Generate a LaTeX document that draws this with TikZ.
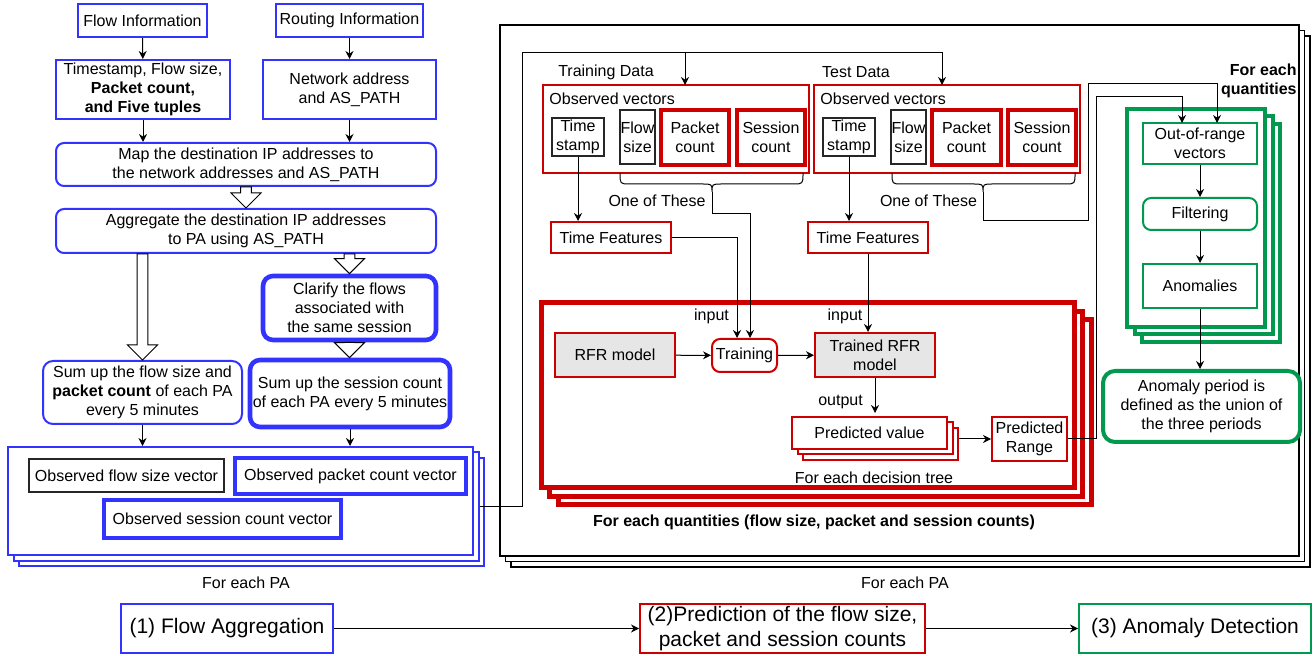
\documentclass[tikz,border=0pt]{standalone}
\usepackage{fontspec}
\setmainfont{Liberation Sans}
\usetikzlibrary{calc, arrows.meta}
\definecolor{fablue}{RGB}{51,51,255}
\definecolor{fared}{RGB}{204,0,0}
\definecolor{fagreen}{RGB}{0,153,77}
\definecolor{fagray}{RGB}{230,230,230}

\newcommand{\hollowarrow}[2]{%
  \draw[line width=0.5pt, fill=white] let \p1=(#1), \p2=(#2) in
    (\x1-2.7pt,\y1) -- (\x1-2.7pt,\y2+7.5pt) -- (\x1-7.5pt,\y2+7.5pt) -- (\x1,\y2)
    -- (\x1+7.5pt,\y2+7.5pt) -- (\x1+2.7pt,\y2+7.5pt) -- (\x1+2.7pt,\y1) -- cycle;}

\begin{document}
\begin{tikzpicture}[x=0.5pt, y=-0.5pt, >={Stealth[length=4pt,width=4pt]},
    every node/.style={font=\fontsize{8}{9.6}\selectfont, inner sep=1pt, align=center},
    sz/.style 2 args={minimum width=#1*0.5pt, minimum height=#2*0.5pt},
    bbox/.style={draw=fablue, line width=1pt, fill=white},
    bthick/.style={draw=fablue, line width=2.3pt, fill=white},
    rbox/.style={draw=fared, line width=1pt, fill=white},
    rthick/.style={draw=fared, line width=2pt, fill=white, inner sep=0pt},
    gbox/.style={draw=fagreen, line width=1pt, fill=white},
    kbox/.style={draw=black!85, line width=0.6pt, fill=white, inner sep=0pt},
    model/.style={rbox, fill=fagray},
    conn/.style={->, line width=0.5pt},
    bigfont/.style={font=\fontsize{10.5}{12.6}\selectfont}]
  \useasboundingbox (0,0) rectangle (1315,656);

  % flow aggregation
  \node[bbox, sz={129}{33}] (fi) at (142.5,20.5) {Flow Information};
  \node[bbox, sz={147}{33}] (ri) at (349.5,20.5) {Routing Information};
  \node[bbox, sz={174}{59}] (ts) at (143,89.5) {Timestamp, Flow size,\\ \textbf{Packet count,}\\ \textbf{and Five tuples}};
  \node[bbox, sz={173}{59}] (na) at (349.5,89.5) {Network address\\ and AS\_PATH};
  \node[bbox, rounded corners=4pt, sz={380}{43}] (map) at (246,164.5) {Map the destination IP addresses to\\ the network addresses and AS\_PATH};
  \node[bbox, rounded corners=4pt, sz={380}{44}] (agg) at (246,231) {Aggregate the destination IP addresses\\ to PA using AS\_PATH};
  \node[bthick, rounded corners=5pt, sz={173}{64}] (clar) at (349.5,308) {Clarify the flows\\ associated with\\ the same session};
  \node[bbox, rounded corners=5pt, sz={199}{63}] (sumf) at (142.5,392.5) {Sum up the flow size and\\ \textbf{packet count} of each PA\\ every 5 minutes};
  \node[bthick, rounded corners=5pt, sz={200}{67}, inner sep=0pt] (sums) at (350,393.5) {Sum up the session count\\ of each PA every 5 minutes};

  \node[bbox, sz={465}{108}] (pa3) at (251.5,512) {};
  \node[bbox, sz={465}{108}] (pa2) at (246,506.5) {};
  \node[bbox, sz={465}{108}] (pa1) at (240.5,501) {};
  \node[kbox, sz={195}{33}] (ofs) at (126.5,475.5) {Observed flow size vector};
  \node[bthick, sz={231}{36}, inner sep=0pt] (opc) at (350.5,476) {Observed packet count vector};
  \node[bthick, sz={237}{38}, inner sep=0pt] (osc) at (222.5,519) {Observed session count vector};
  \node (pal) at (246,583) {For each PA};

  \draw[conn] (fi) -- (ts);
  \draw[conn] (ri) -- (na);
  \draw[conn] (ts.south) -- (ts.south |- map.north);
  \draw[conn] (na.south) -- (na.south |- map.north);
  \hollowarrow{map.south}{agg.north}
  \hollowarrow{agg.south -| clar.north}{clar.north}
  \hollowarrow{agg.south -| sumf.north}{sumf.north}
  \hollowarrow{clar.south}{clar.south |- sums.north}
  \draw[conn] (sumf.south) -- (sumf.south |- pa1.north);
  \draw[conn] (sums.south) -- (sums.south |- pa1.north);

  % prediction
  \node[draw, line width=0.9pt, fill=white, sz={799}{531}] (bk3) at (910.5,301.5) {};
  \node[draw, line width=0.9pt, fill=white, sz={799}{531}] (bk2) at (905,296) {};
  \node[draw, line width=0.9pt, fill=white, sz={799}{531}] (bk1) at (899.5,290.5) {};
  \node (bkl) at (905,583) {For each PA};

  \node (trd) at (606,72) {Training Data};
  \node (ted) at (856,72) {Test Data};
  \node[rbox, sz={266}{88}] (tro) at (676,129) {};
  \node[rbox, sz={266}{88}] (teo) at (947,129) {};
  \node[anchor=west] (trol) at (547,99) {Observed vectors};
  \node[anchor=west] (teol) at (818,99) {Observed vectors};

  \node[kbox, sz={52}{38}] (tts) at (578,137) {Time\\ stamp};
  \node[kbox, sz={35}{54}] (tfs) at (637.5,137) {Flow\\ size};
  \node[rthick, sz={68}{55}] (tpc) at (695,137.5) {Packet\\ count};
  \node[rthick, sz={68}{55}] (tsc) at (771,137.5) {Session\\ count};
  \node[kbox, sz={52}{38}] (ets) at (849,137) {Time\\ stamp};
  \node[kbox, sz={35}{54}] (efs) at (908.5,137) {Flow\\ size};
  \node[rthick, sz={69}{55}] (epc) at (966.5,137.5) {Packet\\ count};
  \node[rthick, sz={68}{55}] (esc) at (1042,137.5) {Session\\ count};

  \draw[line width=0.5pt] (620,173) .. controls (620,184) .. (630,184) -- (702,184) .. controls (712,184) .. (712,192)
    .. controls (712,184) .. (722,184) -- (793,184) .. controls (803,184) .. (803,173);
  \draw[line width=0.5pt] (892,173) .. controls (892,184) .. (902,184) -- (973,184) .. controls (983,184) .. (983,192)
    .. controls (983,184) .. (993,184) -- (1065,184) .. controls (1075,184) .. (1075,173);
  \coordinate (tbr) at (712,192);
  \coordinate (ebr) at (983,192);
  \node (tone) at (657,201) {One of These};
  \node (eone) at (928.5,201) {One of These};

  \node[rbox, sz={120}{31}] (ttf) at (611,237.5) {Time Features};
  \node[rbox, sz={120}{31}] (etf) at (868,237.5) {Time Features};

  \node[draw=fared, line width=2.5pt, fill=white, sz={533}{185}] (rq3) at (824.5,412.5) {};
  \node[draw=fared, line width=2.5pt, fill=white, sz={533}{185}] (rq2) at (816,404) {};
  \node[draw=fared, line width=2.5pt, fill=white, sz={533}{185}] (rq1) at (807.5,395.5) {};
  \node (in1) at (711.5,316) {input};
  \node (in2) at (845,316) {input};
  \node[model, sz={120}{44}] (rfr) at (615,355) {RFR model};
  \node[rbox, rounded corners=4pt, sz={65}{33}, inner sep=0pt] (trn) at (744.5,355.5) {Training};
  \node[model, sz={120}{44}] (trfr) at (875,355) {Trained RFR\\ model};
  \node (outl) at (840.5,402) {output};
  \node[rbox, sz={155}{32}] (pv3) at (880.5,444) {};
  \node[rbox, sz={155}{32}] (pv2) at (875,438.5) {};
  \node[rbox, sz={155}{32}] (pv1) at (869.5,433) {Predicted value};
  \node[rbox, sz={75}{44}, inner sep=0pt] (pr) at (1029.5,439) {Predicted\\ Range};
  \node (dtl) at (874,478) {For each decision tree};
  \node[font=\fontsize{8}{9.6}\selectfont\bfseries] (qtl) at (814,522) {For each quantities (flow size, packet and session counts)};

  \coordinate (jn) at (522,53);
  \coordinate (tin) at (685,85);
  \coordinate (ein) at (942,85);
  \draw[conn] (pa2.east) -| (jn) -| (ein);
  \draw[conn] (jn -| tin) -- (tin);
  \draw[conn] (tts.south) -- (tts.south |- ttf.north);
  \draw[conn] (ets.south) -- (ets.south |- etf.north);
  \draw[conn] (ttf.east) -| ($(trn.north)+(-7.5,0)$);
  \draw[conn] (tbr) -- ++(0,22) -| ($(trn.north)+(5.5,0)$);
  \draw[conn] (etf.south) -- (etf.south |- trfr.north);
  \draw[conn] (rfr) -- (trn);
  \draw[conn] (trn) -- (trfr);
  \draw[conn] (trfr.south) -- ++(0,35);
  \draw[conn] (pv3.east |- pr.west) -- (pr.west);

  % anomaly detection
  \node[draw=fagreen, line width=2pt, fill=white, sz={138}{218}] (gq3) at (1211,233) {};
  \node[draw=fagreen, line width=2pt, fill=white, sz={138}{218}] (gq2) at (1203.5,225.5) {};
  \node[draw=fagreen, line width=2pt, fill=white, sz={138}{218}] (gq1) at (1196,218) {};
  \node[anchor=east, align=right, font=\fontsize{8}{9.6}\selectfont\bfseries] (gql) at (1299,81) {For each\\ quantities};
  \node[gbox, sz={114}{41}] (oor) at (1200,143.5) {Out-of-range\\ vectors};
  \node[gbox, rounded corners=4pt, sz={114}{32}] (flt) at (1200,214) {Filtering};
  \node[gbox, sz={114}{44}] (anm) at (1200,286) {Anomalies};
  \node[draw=fagreen, line width=2pt, fill=white, rounded corners=6pt, sz={197}{71}] (ap) at (1201.5,406.5) {Anomaly period is\\ defined as the union of\\ the three periods};

  \coordinate (rj) at (1096,97);
  \coordinate (oin1) at (1182,123);
  \coordinate (oin2) at (1217,123);
  \draw[conn] (pr.east) -| (rj) -| (oin1);
  \draw[conn] (ebr) -- ++(0,29) -| (1088,84) -| (oin2);
  \draw[conn] (oor) -- (flt);
  \draw[conn] (flt) -- (anm);
  \draw[conn] (anm.south) -- (anm.south |- ap.north);

  % steps
  \node[bbox, bigfont, sz={212}{49}] (s1) at (227,628.5) {(1) Flow Aggregation};
  \node[rbox, bigfont, sz={285}{49}, inner sep=0pt] (s2) at (782.5,628.5) {(2)Prediction of the flow size,\\ packet and session counts};
  \node[gbox, bigfont, sz={232}{49}] (s3) at (1195,628.5) {(3) Anomaly Detection};
  \draw[conn] (s1) -- (s2);
  \draw[conn] (s2) -- (s3);
\end{tikzpicture}
\end{document}
